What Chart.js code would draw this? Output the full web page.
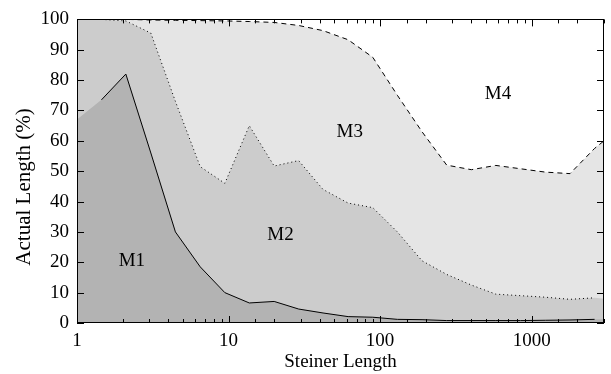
<!DOCTYPE html>
<html><head><meta charset="utf-8">
<script src="https://cdn.jsdelivr.net/npm/chart.js@4"></script>
<style>html,body{margin:0;padding:0;background:#fff}#wrap{width:611px;height:374px;position:relative}</style>
</head><body><div id="wrap"><canvas id="c" width="611" height="374"></canvas></div>
<script>
// Steiner length samples (log axis); first and last entries only extend the shaded areas
const steinerLength = [1, 1.45, 2.1, 3.07, 4.46, 6.5, 9.45, 13.7, 20, 29, 42, 61.5, 89.5, 130, 189, 275, 400, 580, 845, 1230, 1790, 2600, 3000];
// cumulative percentage boundaries
const m1 = [67, 73.5, 82, 56, 30, 18.5, 10, 6.6, 7.1, 4.6, 3.3, 2.1, 1.9, 1.2, 1.1, 0.8, 0.8, 0.8, 0.8, 0.9, 1.0, 1.2, 1.2];
const m2 = [100, 100, 99.5, 95.5, 73, 51.5, 46, 65, 51.7, 53.5, 44, 39.5, 38, 30, 20.5, 16, 12.5, 9.5, 9, 8.5, 7.8, 8.3, 8];
const m3 = [100, 100, 100, 99.8, 99.7, 99.6, 99.5, 99.3, 99, 98, 96.3, 93.3, 87.5, 75, 63, 52, 50.5, 51.9, 50.8, 49.7, 49.2, 57.5, 60];
// x-range over which each boundary line is drawn
const lineFrom = [1.45, 1.45, 1.45];
const lineTo = [2600, 2600, 3000];
// region labels (data coordinates)
const regionNames = ['M1', 'M2', 'M3', 'M4'];
const regionX = [2.3, 22, 63, 600];
const regionY = [20.5, 29, 63, 75.5];
const xTickLabels = [1, 10, 100, 1000];

const FONT = 'Liberation Serif';

function pts(arr) { return steinerLength.map((x, i) => ({x: x, y: arr[i]})); }
function linePts(arr, k) { return pts(arr).filter(p => p.x >= lineFrom[k] && p.x <= lineTo[k]); }

const frame = {
  id: 'frame',
  afterDatasetsDraw(chart) {
    const {ctx, chartArea: a, scales: {x, y}} = chart;
    ctx.save();
    ctx.fillStyle = '#000';
    ctx.font = '19px "' + FONT + '"';
    ctx.textAlign = 'center';
    ctx.textBaseline = 'middle';
    regionNames.forEach((n, i) => {
      ctx.fillText(n, x.getPixelForValue(regionX[i]), y.getPixelForValue(regionY[i]));
    });
    ctx.strokeStyle = '#000';
    ctx.lineWidth = 1;
    ctx.beginPath();
    x.ticks.forEach(t => {
      const px = Math.round(x.getPixelForValue(t.value)) + 0.5;
      const len = xTickLabels.includes(t.value) ? 7 : 4;
      ctx.moveTo(px, a.bottom); ctx.lineTo(px, a.bottom - len);
      ctx.moveTo(px, a.top); ctx.lineTo(px, a.top + len);
    });
    y.ticks.forEach(t => {
      const py = Math.round(y.getPixelForValue(t.value)) + 0.5;
      ctx.moveTo(a.left, py); ctx.lineTo(a.left + 7, py);
      ctx.moveTo(a.right, py); ctx.lineTo(a.right - 7, py);
    });
    ctx.stroke();
    ctx.strokeRect(Math.round(a.left) + 0.5, Math.round(a.top) + 0.5, Math.round(a.right - a.left) - 1, Math.round(a.bottom - a.top) - 1);
    ctx.restore();
  }
};

const NB = '\u00A0';
new Chart(document.getElementById('c'), {
  type: 'line',
  data: {
    datasets: [
      {label: 'M1', data: linePts(m1, 0), fill: false, borderColor: '#000', borderWidth: 1, order: 0},
      {label: 'M2', data: linePts(m2, 1), fill: false, borderColor: '#000', borderWidth: 1, borderDash: [1, 3], order: 0},
      {label: 'M3', data: linePts(m3, 2), fill: false, borderColor: '#000', borderWidth: 1, borderDash: [5, 4], order: 0},
      {label: 'M1 area', data: pts(m1), fill: 'origin', backgroundColor: '#b3b3b3', borderWidth: 0, borderColor: 'rgba(0,0,0,0)', order: 3},
      {label: 'M2 area', data: pts(m2), fill: 'origin', backgroundColor: '#cccccc', borderWidth: 0, borderColor: 'rgba(0,0,0,0)', order: 4},
      {label: 'M3 area', data: pts(m3), fill: 'origin', backgroundColor: '#e5e5e5', borderWidth: 0, borderColor: 'rgba(0,0,0,0)', order: 5}
    ]
  },
  options: {
    responsive: false,
    animation: false,
    devicePixelRatio: 1,
    layout: {padding: {top: 12, right: 2, left: 0, bottom: 0}},
    elements: {point: {radius: 0}, line: {tension: 0}},
    plugins: {legend: {display: false}, tooltip: {enabled: false}},
    scales: {
      x: {
        type: 'logarithmic', min: 1, max: 3000, position: 'bottom',
        grid: {display: false, drawTicks: false}, border: {display: false},
        afterFit: s => { s.height = 51; },
        ticks: {
          autoSkip: false, maxRotation: 0, color: '#000', padding: 7,
          font: {family: FONT, size: 19},
          callback: v => xTickLabels.includes(v) ? String(v) : ''
        },
        title: {display: true, text: 'Steiner Length', color: '#000', font: {family: FONT, size: 19}, padding: {top: 0, bottom: 1}}
      },
      y: {
        min: 0, max: 100, position: 'left',
        grid: {display: false, drawTicks: false}, border: {display: false},
        afterFit: s => { s.width = 77; },
        ticks: {stepSize: 10, color: '#000', padding: 8, font: {family: FONT, size: 19}},
        title: {display: true, text: 'Actual Length (%)' + NB.repeat(6), color: '#000', font: {family: FONT, size: 21}, padding: {top: 12, bottom: 0}}
      }
    }
  },
  plugins: [frame]
});
</script></body></html>
